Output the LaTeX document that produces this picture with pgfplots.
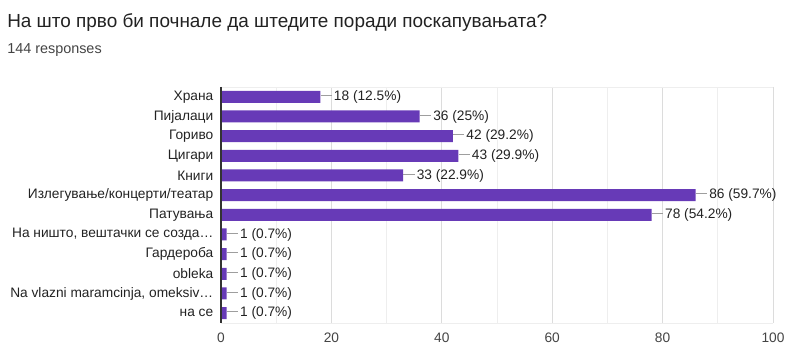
\documentclass[border=0pt]{standalone}
\usepackage{pgfplots}
\pgfplotsset{compat=1.18}
\usepackage{fontspec}
\setmainfont{Liberation Sans}
\definecolor{barc}{HTML}{673AB7}
\definecolor{majg}{HTML}{DCDCDC}
\definecolor{ming}{HTML}{EEEEEE}
\definecolor{leadc}{HTML}{9E9E9E}
\definecolor{txt}{HTML}{222222}
\definecolor{tick}{HTML}{444444}
\begin{document}
\begin{tikzpicture}
\path[use as bounding box] (0pt,0pt) rectangle (600pt,267pt);
\node[anchor=base west,inner sep=0,font=\fontsize{14.2pt}{16pt}\selectfont,text=txt] at (5.25pt,246pt) {На што прво би почнале да штедите поради поскапувањата?};
\node[anchor=base west,inner sep=0,font=\fontsize{10.8pt}{12pt}\selectfont,text=tick] at (5.25pt,227pt) {144 responses};
\begin{axis}[
  at={(165.75pt,24.75pt)}, anchor=south west,
  scale only axis, width=414pt, height=177pt,
  xmin=0, xmax=100, ymin=-0.5, ymax=11.5, y dir=reverse,
  xtick={0,20,...,100}, minor xtick={10,30,50,70,90},
  ytick={0,...,11},
  yticklabels={Храна,Пијалаци,Гориво,Цигари,Книги,Излегување/концерти/театар,Патувања,{На ништо, вештачки се созда…},Гардероба,obleka,{Na vlazni maramcinja, omeksiv…},на се},
  xmajorgrids, xminorgrids,
  major grid style={majg, line width=0.6pt},
  minor grid style={ming, line width=0.6pt},
  axis line style={draw=none},
  tick style={draw=none}, minor tick style={draw=none},
  ticklabel style={font=\fontsize{10.3pt}{11pt}\selectfont},
  yticklabel style={text=txt, xshift=2pt},
  xticklabel style={text=tick, yshift=-4pt},
  /pgf/number format/assume math mode=true,
  xbar, bar width=9pt, bar shift=0pt,
  point meta=explicit symbolic,
  nodes near coords={\textcolor{leadc}{\rule[0.33em]{8.5pt}{0.7pt}}\hspace{1.5pt}\pgfplotspointmeta},
  every node near coord/.append style={anchor=west, inner sep=0pt, xshift=0pt, font=\fontsize{10.3pt}{11pt}\selectfont, text=txt},
  clip=false,
]
\draw[ming, line width=0.6pt] (axis cs:0,-0.5) -- (axis cs:100,-0.5);
\draw[ming, line width=0.6pt] (axis cs:0,11.5) -- (axis cs:100,11.5);
\draw[majg, line width=0.6pt] (axis cs:100,-0.5) -- (axis cs:100,11.5);
\addplot[fill=barc, draw=none] table[meta=lab] {
x y lab
18 0 {18 (12.5\%)}
36 1 {36 (25\%)}
42 2 {42 (29.2\%)}
43 3 {43 (29.9\%)}
33 4 {33 (22.9\%)}
86 5 {86 (59.7\%)}
78 6 {78 (54.2\%)}
1 7 {1 (0.7\%)}
1 8 {1 (0.7\%)}
1 9 {1 (0.7\%)}
1 10 {1 (0.7\%)}
1 11 {1 (0.7\%)}
};
\draw[black!80, line width=0.8pt] (axis cs:0,-0.5) -- (axis cs:0,11.5);
\end{axis}
\end{tikzpicture}
\end{document}
